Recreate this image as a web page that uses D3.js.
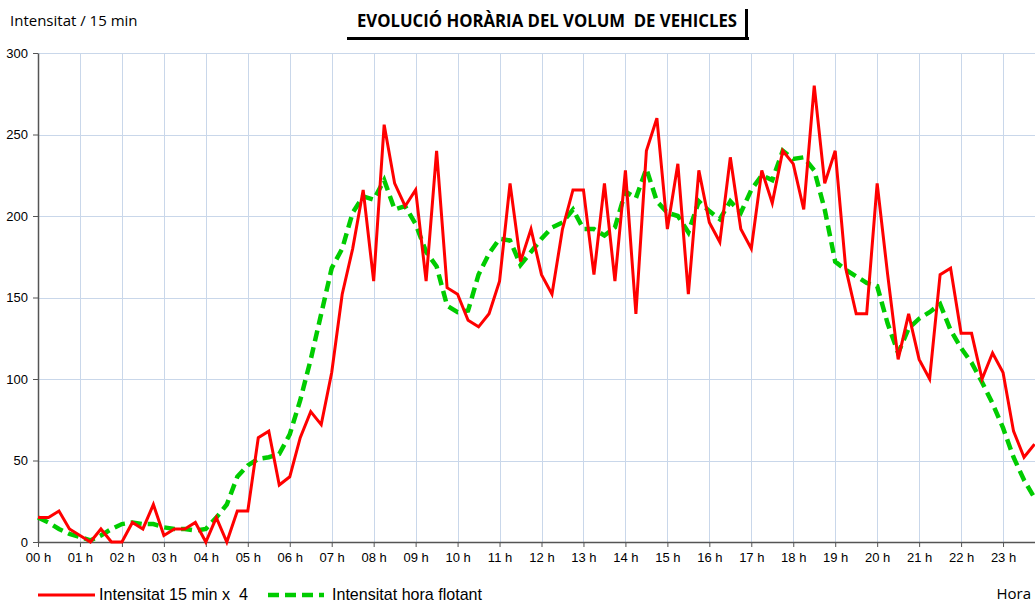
<!DOCTYPE html>
<html>
<head>
<meta charset="utf-8">
<script src="https://cdn.jsdelivr.net/npm/d3@7"></script>
<style>
	body { margin: 0; background: #fff; }
	svg { display: block; }
	.tick text { font-family: 'Liberation Sans', Arial, sans-serif; font-size: 13px; fill: #000; }
</style>
</head>
<body>
<div id="chart"></div>
<script>
'use strict'

// one value every 15 min, starting at 00:00
const intensitat15 = [15, 15, 19, 8, 4, 0, 8, 0, 0, 12, 8, 23, 4, 8, 8, 12, 0, 15, 0, 19,
	19, 64, 68, 35, 40, 64, 80, 72, 104, 152, 180, 216, 160, 256, 220, 206, 216, 160, 240, 156,
	152, 136, 132, 140, 160, 220, 172, 192, 164, 152, 192, 216, 216, 164, 220, 160, 228, 140, 240, 260,
	192, 232, 152, 228, 196, 184, 236, 192, 180, 228, 208, 240, 232, 204, 280, 220, 240, 168, 140, 140,
	220, 164, 112, 140, 112, 100, 164, 168, 128, 128, 100, 116, 104, 68, 52, 60]

const intensitatHora = [15, 12, 8, 5, 3, 1, 4, 8, 11, 12, 11, 11, 9, 8, 8, 7, 8, 15, 23, 40,
	47, 51, 52, 54, 66, 87, 112, 140, 168, 180, 202, 212, 210, 222, 204, 206, 195, 178, 169, 145,
	141, 142, 164, 177, 186, 185, 170, 178, 186, 193, 196, 204, 192, 192, 188, 193, 215, 211, 229, 209,
	202, 200, 190, 209, 203, 198, 209, 202, 216, 225, 222, 240, 235, 236, 228, 204, 172, 167, 163, 159,
	157, 134, 116, 131, 137, 141, 146, 130, 119, 110, 98, 85, 70, 52, 38, 27]

const hourLabels = ['00 h', '01 h', '02 h', '03 h', '04 h', '05 h', '06 h', '07 h', '08 h', '09 h', '10 h', '11 h',
	'12 h', '13 h', '14 h', '15 h', '16 h', '17 h', '18 h', '19 h', '20 h', '21 h', '22 h', '23 h']

const yTicks = [0, 50, 100, 150, 200, 250, 300]

const width = 1035
const height = 604
const plot = { left: 38, top: 53, right: 1045, bottom: 542 }

const svg = d3.select('#chart').append('svg')
	.attr('width', width)
	.attr('height', height)

const x = d3.scaleLinear()
	.domain([0, 96])
	.range([plot.left, plot.right])

const y = d3.scaleLinear()
	.domain([0, 300])
	.range([plot.bottom, plot.top])

// grid
const grid = svg.append('g').attr('class', 'grid')
	.attr('stroke', '#c9d7ea')
	.attr('stroke-width', 1)

grid.selectAll('.vline')
	.data(d3.range(1, 25))
	.enter()
	.append('line')
	.attr('x1', (h) => Math.round(x(h * 4)) + 0.5)
	.attr('x2', (h) => Math.round(x(h * 4)) + 0.5)
	.attr('y1', plot.top)
	.attr('y2', plot.bottom)

grid.selectAll('.hline')
	.data(yTicks.slice(1))
	.enter()
	.append('line')
	.attr('x1', plot.left)
	.attr('x2', plot.right)
	.attr('y1', (d) => Math.round(y(d)) + 0.5)
	.attr('y2', (d) => Math.round(y(d)) + 0.5)

// axes
const yAxis = svg.append('g')
	.attr('transform', `translate(${plot.left},0)`)
	.call(d3.axisLeft(y).tickValues(yTicks).tickSize(5).tickSizeOuter(0).tickPadding(5))
yAxis.select('.domain').attr('stroke', '#555').attr('stroke-width', 1.5)
yAxis.selectAll('.tick line').attr('stroke', '#555')

const xAxis = svg.append('g')
	.attr('transform', `translate(0,${plot.bottom})`)
	.call(d3.axisBottom(x)
		.tickValues(hourLabels.map((h, i) => i * 4))
		.tickFormat((d) => hourLabels[d / 4])
		.tickSize(5)
		.tickSizeOuter(0)
		.tickPadding(6))
xAxis.select('.domain').attr('stroke', '#555').attr('stroke-width', 1.5)
xAxis.selectAll('.tick line').attr('stroke', '#555')

// series
const line = d3.line()
	.x((d, i) => x(i))
	.y((d) => y(d))

svg.append('path')
	.datum(intensitatHora)
	.attr('fill', 'none')
	.attr('stroke', '#00cc00')
	.attr('stroke-width', 4.5)
	.attr('stroke-dasharray', '11,6')
	.attr('d', line)

svg.append('path')
	.datum(intensitat15)
	.attr('fill', 'none')
	.attr('stroke', '#ff0000')
	.attr('stroke-width', 3)
	.attr('stroke-linejoin', 'miter')
	.attr('d', line)

// texts
svg.append('text')
	.attr('x', 10)
	.attr('y', 26)
	.style('font-family', "'Open Sans', sans-serif")
	.style('font-size', '15px')
	.text('Intensitat / 15 min')

const titleBox = svg.append('g')
titleBox.append('rect')
	.attr('x', 347)
	.attr('y', 37)
	.attr('width', 402)
	.attr('height', 3)
	.attr('fill', '#000')
titleBox.append('rect')
	.attr('x', 745)
	.attr('y', 9)
	.attr('width', 3)
	.attr('height', 31)
	.attr('fill', '#000')
titleBox.append('text')
	.attr('x', 357)
	.attr('y', 27)
	.attr('textLength', 380)
	.attr('lengthAdjust', 'spacingAndGlyphs')
	.style('font-family', "'Open Sans', sans-serif")
	.style('font-weight', 'bold')
	.style('font-size', '17px')
	.style('white-space', 'pre')
	.text('EVOLUCIÓ HORÀRIA DEL VOLUM  DE VEHICLES')

svg.append('text')
	.attr('x', 1031)
	.attr('y', 599)
	.attr('text-anchor', 'end')
	.style('font-family', "'Open Sans', sans-serif")
	.style('font-size', '15px')
	.text('Hora')

// legend
const legend = svg.append('g')
	.style('font-family', "'Liberation Sans Narrow', 'Arial Narrow', sans-serif")
	.style('font-size', '17px')

legend.append('line')
	.attr('x1', 38).attr('x2', 95)
	.attr('y1', 595).attr('y2', 595)
	.attr('stroke', '#ff0000')
	.attr('stroke-width', 3)
legend.append('text')
	.attr('x', 99)
	.attr('y', 600)
	.attr('textLength', 149)
	.attr('lengthAdjust', 'spacingAndGlyphs')
	.style('white-space', 'pre')
	.text('Intensitat 15 min x  4')

legend.append('line')
	.attr('x1', 268).attr('x2', 324)
	.attr('y1', 595).attr('y2', 595)
	.attr('stroke', '#00cc00')
	.attr('stroke-width', 4.5)
	.attr('stroke-dasharray', '11,6')
legend.append('text')
	.attr('x', 332)
	.attr('y', 600)
	.attr('textLength', 150)
	.attr('lengthAdjust', 'spacingAndGlyphs')
	.text('Intensitat hora flotant')
</script>
</body>
</html>
